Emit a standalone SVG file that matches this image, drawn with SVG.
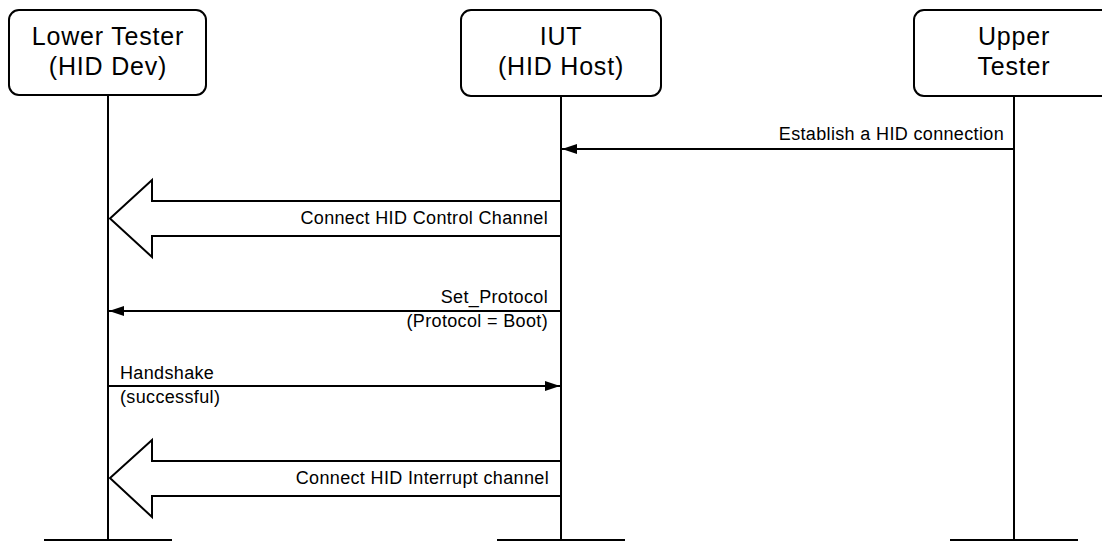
<svg xmlns="http://www.w3.org/2000/svg" width="1102" height="541" viewBox="0 0 1102 541">
<style>
.box{fill:#fff;stroke:#000;stroke-width:2}
.life{stroke:#000;stroke-width:2;fill:none}
.msg{stroke:#000;stroke-width:2;fill:none}
.big{fill:#fff;stroke:#000;stroke-width:2;stroke-linejoin:miter}
.hd{font-family:"Liberation Sans",Arial,sans-serif;font-size:25px;letter-spacing:0.8px;fill:#000;text-anchor:middle}
.lb{font-family:"Liberation Sans",Arial,sans-serif;font-size:18px;letter-spacing:0.35px;fill:#000}
.r{text-anchor:end}
</style>
<defs>
<marker id="ah" viewBox="0 0 15 10" refX="15" refY="5" markerWidth="15" markerHeight="10" markerUnits="userSpaceOnUse" orient="auto">
<path d="M0,0 L15,5 L0,10 Z" fill="#000"/>
</marker>
</defs>
<rect width="1102" height="541" fill="#fff"/>
<g id="lifelines">
<line class="life" x1="108" y1="95" x2="108" y2="541"/>
<line class="life" x1="561" y1="96" x2="561" y2="541"/>
<line class="life" x1="1014" y1="96" x2="1014" y2="541"/>
<line class="life" x1="44" y1="540" x2="172" y2="540"/>
<line class="life" x1="497" y1="540" x2="625" y2="540"/>
<line class="life" x1="950" y1="540" x2="1078" y2="540"/>
</g>
<g id="node-lower">
<rect class="box" x="9" y="10" width="197" height="85" rx="10"/>
<text class="hd" x="108" y="45">Lower Tester</text>
<text class="hd" x="108" y="75">(HID Dev)</text>
</g>
<g id="node-iut">
<rect class="box" x="461" y="10" width="200" height="86" rx="10"/>
<text class="hd" x="561" y="45">IUT</text>
<text class="hd" x="561" y="75">(HID Host)</text>
</g>
<g id="node-upper">
<rect class="box" x="914" y="10" width="200" height="86" rx="10"/>
<text class="hd" x="1014" y="45">Upper</text>
<text class="hd" x="1014" y="75">Tester</text>
</g>
<g id="connectors">
<line class="msg" x1="1014" y1="149" x2="562" y2="149" marker-end="url(#ah)"/>
<text class="lb r" x="1004" y="140">Establish a HID connection</text>
<polygon class="big" points="561,201 152,201 152,180 110,218.5 152,257 152,236 561,236"/>
<text class="lb r" x="548" y="224">Connect HID Control Channel</text>
<line class="msg" x1="561" y1="311" x2="109" y2="311" marker-end="url(#ah)"/>
<text class="lb r" x="548" y="303">Set_Protocol</text>
<text class="lb r" x="548" y="327">(Protocol = Boot)</text>
<line class="msg" x1="108" y1="386" x2="560" y2="386" marker-end="url(#ah)"/>
<text class="lb" x="120" y="379">Handshake</text>
<text class="lb" x="120" y="403">(successful)</text>
<polygon class="big" points="561,461 152,461 152,440 110,478 152,517 152,496 561,496"/>
<text class="lb r" x="549" y="484">Connect HID Interrupt channel</text>
</g>
</svg>
